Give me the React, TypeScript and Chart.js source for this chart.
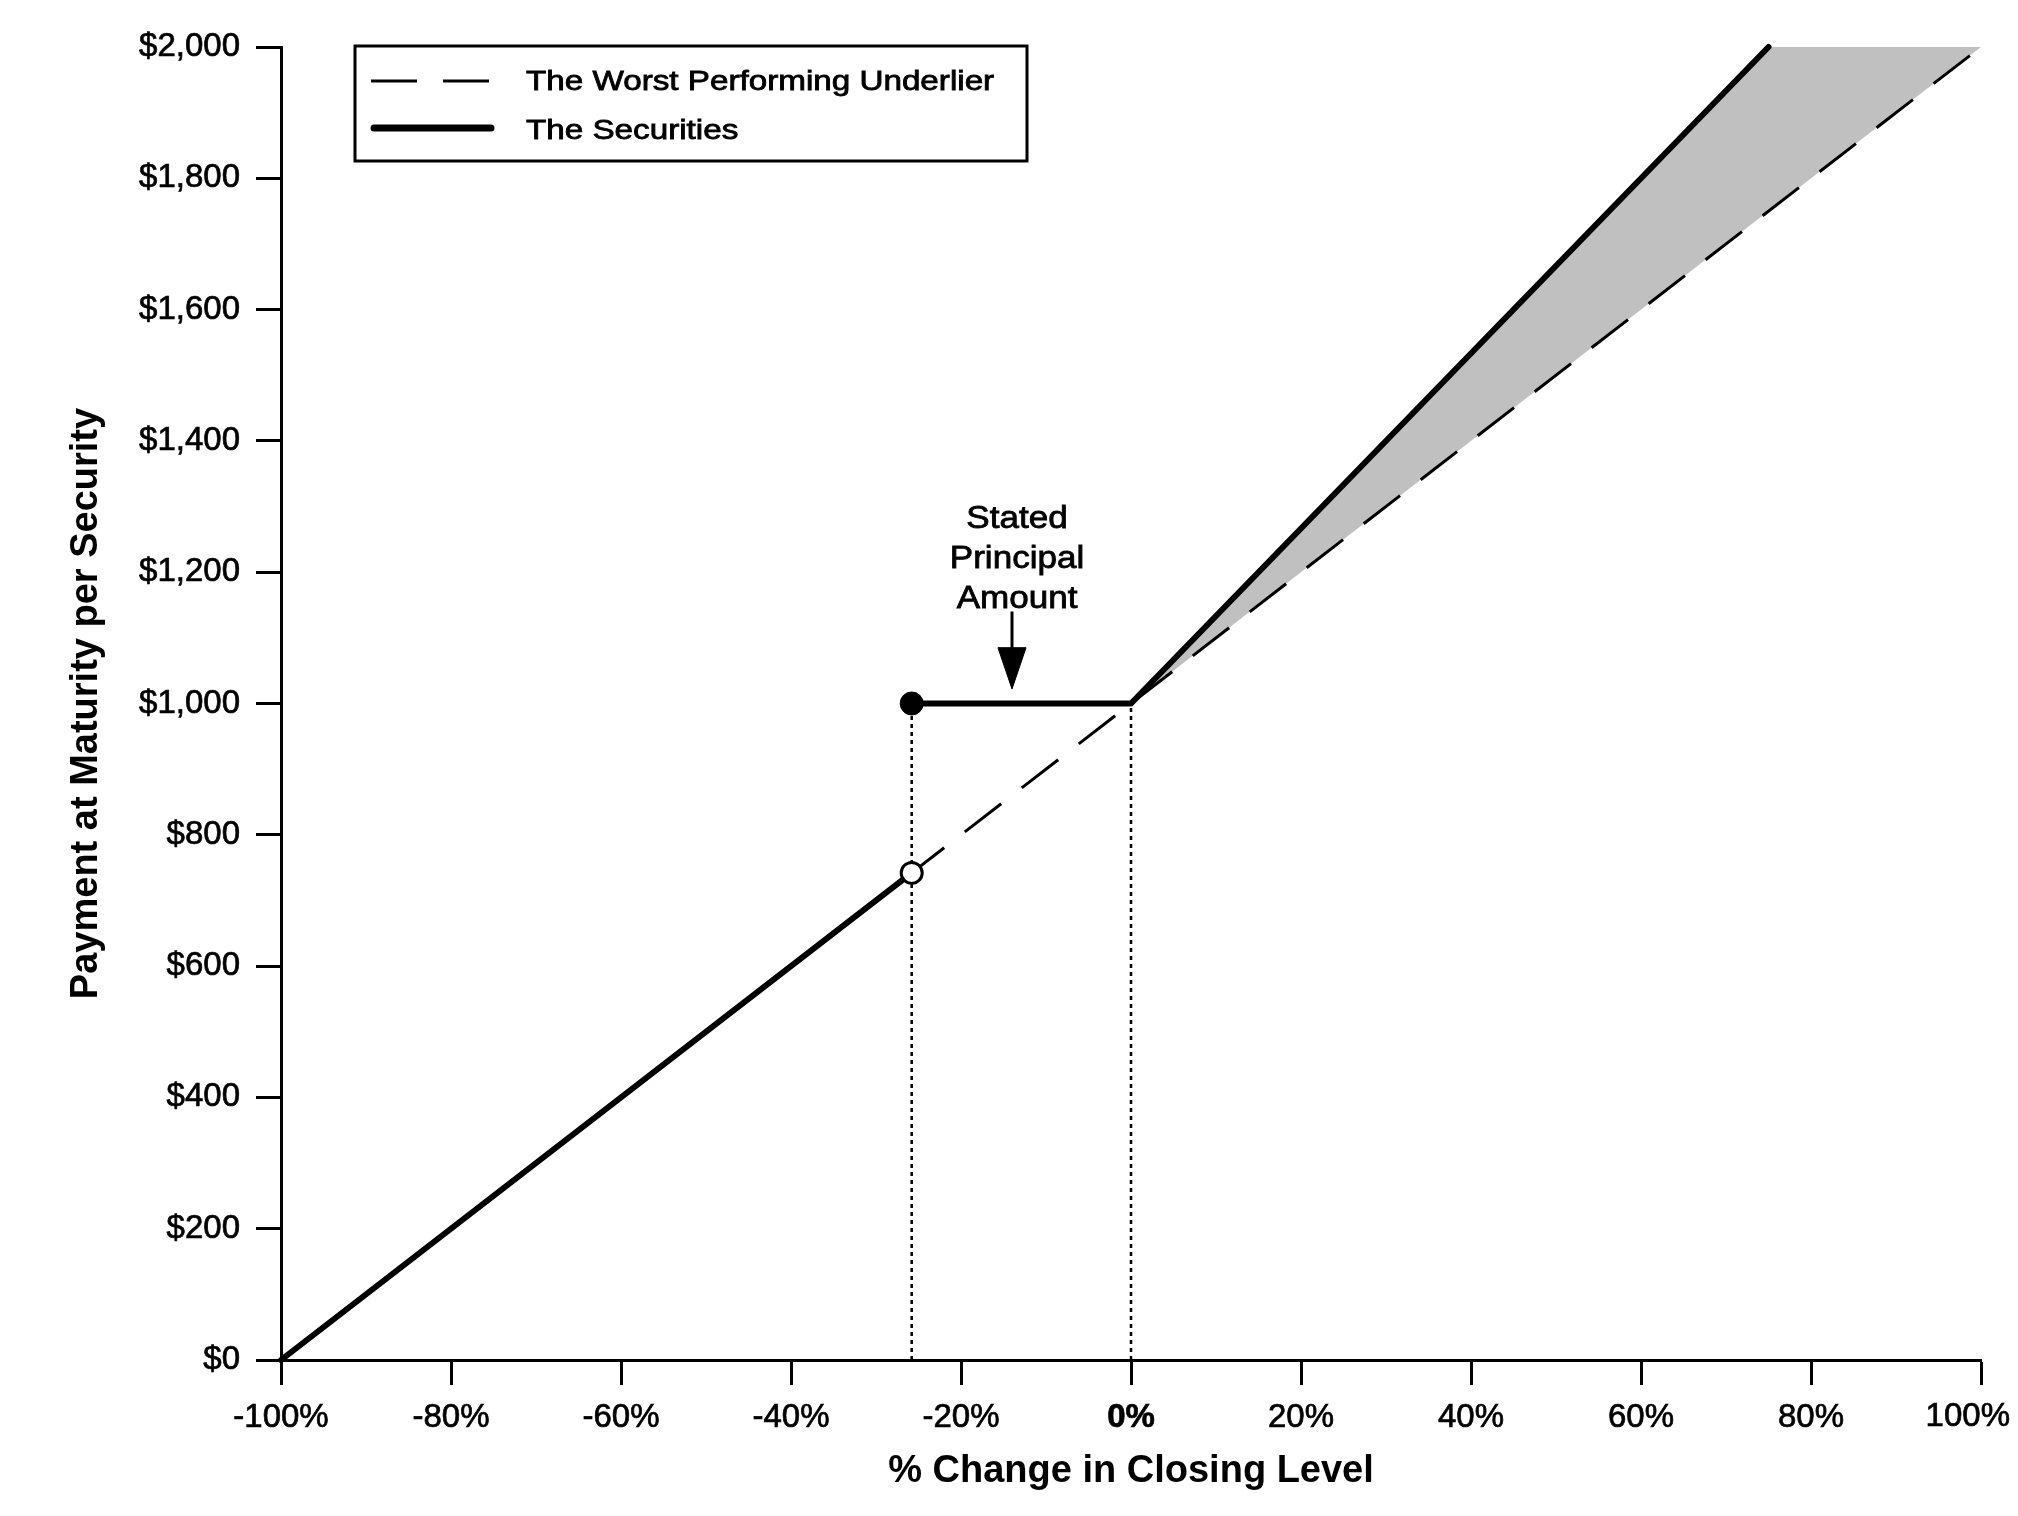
import React, { useEffect, useRef } from 'react';
import { Chart, registerables } from 'chart.js';

Chart.register(...registerables);

// ---------- data ----------
const xTickValues = [-100, -80, -60, -40, -20, 0, 20, 40, 60, 80, 100];
const yTickValues = [0, 200, 400, 600, 800, 1000, 1200, 1400, 1600, 1800, 2000];

const underlierX = [-100, 100];
const underlierY = [0, 2000];

const securitiesLowX = [-100, -25.8];
const securitiesLowY = [0, 742];
const securitiesHighX = [-25.8, 0, 75];
const securitiesHighY = [1000, 1000, 2000];

const upsideFillX = [0, 75, 100];
const upsideFillY = [1000, 2000, 2000];

const dottedX = [-25.8, 0];
const dottedBottom = 0;
const dottedTop = 1000;

const filledDotX = [-25.8];
const filledDotY = [1000];
const openDotX = [-25.8];
const openDotY = [742];

const arrowX = -14;
const arrowTopY = 1140;
const arrowBaseY = 1085;
const arrowTipY = 1022;
const arrowHalfWidth = 1.65;

const annotationLines = ['Stated', 'Principal', 'Amount'];
const legendLabels = ['The Worst Performing Underlier', 'The Securities'];

const FONT = '"Liberation Sans", Arial, Helvetica, sans-serif';
const xLabel = (v: number) => `${v}%`;
const yLabel = (v: number) => '$' + Number(v).toLocaleString('en-US');

const pts = (xs: number[], ys: number[]) => xs.map((x, i) => ({ x, y: ys[i] }));

function stretchedText(ctx: CanvasRenderingContext2D, text: string, x: number, y: number, sx: number, align: CanvasTextAlign, stroke: number) {
  ctx.save();
  ctx.translate(x, y);
  ctx.scale(sx, 1);
  ctx.textAlign = align;
  ctx.textBaseline = 'alphabetic';
  ctx.fillText(text, 0, 0);
  if (stroke > 0) {
    ctx.lineWidth = stroke;
    ctx.strokeStyle = '#000';
    ctx.strokeText(text, 0, 0);
  }
  ctx.restore();
}

const lastX = xTickValues[xTickValues.length - 1];

const overlayPlugin = {
  id: 'overlay',
  afterDatasetsDraw(chart: any) {
    const { ctx, chartArea, scales } = chart;
    const xs = scales.x;
    const ys = scales.y;

    // last x tick label, shifted inside the canvas as in the original
    ctx.save();
    ctx.fillStyle = '#000';
    ctx.font = `33px ${FONT}`;
    ctx.textAlign = 'right';
    ctx.textBaseline = 'middle';
    const lx = Math.min(xs.getPixelForValue(lastX) + 42, chart.width - 8);
    ctx.fillText(xLabel(lastX), lx, chartArea.bottom + 57);
    ctx.lineWidth = 0.7;
    ctx.strokeStyle = '#000';
    ctx.strokeText(xLabel(lastX), lx, chartArea.bottom + 57);
    ctx.restore();

    // annotation text
    ctx.save();
    ctx.fillStyle = '#000';
    ctx.font = `31px ${FONT}`;
    const ax = xs.getPixelForValue(arrowX) + 5;
    const ay = ys.getPixelForValue(arrowTopY);
    annotationLines.forEach((t, i) => {
      stretchedText(ctx, t, ax, ay - 84 + i * 40, 1.13, 'center', 0.8);
    });
    ctx.restore();

    // legend box
    const left = chartArea.left + 74;
    const top = chartArea.top - 1;
    const w = 672;
    const h = 115;
    ctx.save();
    ctx.fillStyle = '#fff';
    ctx.fillRect(left, top, w, h);
    ctx.strokeStyle = '#000';
    ctx.lineWidth = 3;
    ctx.strokeRect(left, top, w, h);
    ctx.beginPath();
    ctx.setLineDash([46, 26]);
    ctx.lineWidth = 3;
    ctx.moveTo(left + 16, top + 35);
    ctx.lineTo(left + 139, top + 35);
    ctx.stroke();
    ctx.beginPath();
    ctx.setLineDash([]);
    ctx.lineWidth = 7;
    ctx.lineCap = 'round';
    ctx.moveTo(left + 19, top + 82);
    ctx.lineTo(left + 136, top + 82);
    ctx.stroke();
    ctx.fillStyle = '#000';
    ctx.font = `27px ${FONT}`;
    stretchedText(ctx, legendLabels[0], left + 171, top + 44, 1.23, 'left', 0.8);
    stretchedText(ctx, legendLabels[1], left + 171, top + 93, 1.23, 'left', 0.8);
    ctx.restore();
  },
};

export default function App() {
  const canvasRef = useRef<HTMLCanvasElement | null>(null);

  useEffect(() => {
    document.body.style.margin = '0';
    const canvas = canvasRef.current;
    if (!canvas) return;

    const line = (data: any[], extra: any) => ({
      data,
      borderColor: '#000',
      backgroundColor: '#000',
      pointRadius: 0,
      tension: 0,
      fill: false,
      ...extra,
    });

    const chart = new Chart(canvas, {
      type: 'line',
      data: {
        datasets: [
          line(pts(underlierX, underlierY), { label: legendLabels[0], borderWidth: 3, borderDash: [46, 26], order: 3 }),
          line(pts(upsideFillX, upsideFillY), { label: 'fill', borderWidth: 0, borderColor: 'rgba(0,0,0,0)', backgroundColor: '#c0c0c0', fill: 0, order: 6 }),
          line(pts(securitiesLowX, securitiesLowY), { label: legendLabels[1], borderWidth: 6, borderCapStyle: 'round', borderJoinStyle: 'round', order: 1, clip: false }),
          line(pts(securitiesHighX, securitiesHighY), { label: legendLabels[1], borderWidth: 6, borderCapStyle: 'round', borderJoinStyle: 'round', order: 1, clip: false }),
          line(pts([dottedX[0], dottedX[0]], [dottedBottom, dottedTop]), { borderWidth: 2.5, borderDash: [4, 4], order: 4 }),
          line(pts([dottedX[1], dottedX[1]], [dottedBottom, dottedTop]), { borderWidth: 2.5, borderDash: [4, 4], order: 4 }),
          line(pts([arrowX, arrowX], [arrowTopY, arrowBaseY]), { borderWidth: 3, order: 2 }),
          line(
            pts([arrowX - arrowHalfWidth, arrowX + arrowHalfWidth, arrowX, arrowX - arrowHalfWidth], [arrowBaseY, arrowBaseY, arrowTipY, arrowBaseY]),
            { borderWidth: 1, fill: 'shape', order: 2 }
          ),
          line(pts(filledDotX, filledDotY), { showLine: false, pointRadius: 11.5, pointBorderWidth: 1, pointBackgroundColor: '#000', pointBorderColor: '#000', order: 0 }),
          line(pts(openDotX, openDotY), { showLine: false, pointRadius: 10.5, pointBorderWidth: 3, pointBackgroundColor: '#fff', pointBorderColor: '#000', order: 0 }),
        ],
      },
      options: {
        responsive: false,
        animation: false,
        devicePixelRatio: 1,
        events: [],
        layout: { padding: { top: 47, right: 37, left: 0, bottom: 0 } },
        plugins: {
          legend: { display: false },
          tooltip: { enabled: false },
          filler: { drawTime: 'beforeDatasetsDraw' },
        },
        scales: {
          x: {
            type: 'linear',
            min: -100,
            max: 100,
            afterBuildTicks: (scale: any) => {
              scale.ticks = xTickValues.map((v) => ({ value: v }));
            },
            afterFit: (scale: any) => {
              scale.height = 156;
              scale.paddingLeft = 0;
              scale.paddingRight = 0;
            },
            grid: {
              display: true,
              drawOnChartArea: false,
              drawTicks: true,
              tickLength: 25,
              tickWidth: 3,
              tickColor: '#000',
            },
            border: { display: true, color: '#000', width: 3 },
            ticks: {
              autoSkip: false,
              maxRotation: 0,
              padding: 13,
              color: '#000',
              textStrokeColor: '#000',
              textStrokeWidth: 0.7,
              font: (c: any) => ({ family: FONT, size: 33, weight: c.tick && c.tick.value === 0 ? 'bold' : 'normal' }),
              callback: (v: any) => (v === lastX ? '' : xLabel(v)),
            },
            title: {
              display: true,
              text: '% Change in Closing Level',
              color: '#000',
              font: { family: FONT, size: 38, weight: 'bold' },
              padding: { top: 0, bottom: 22 },
            },
          },
          y: {
            type: 'linear',
            min: 0,
            max: 2000,
            afterBuildTicks: (scale: any) => {
              scale.ticks = yTickValues.map((v) => ({ value: v }));
            },
            afterFit: (scale: any) => {
              scale.width = 281;
              scale.paddingTop = 0;
              scale.paddingBottom = 0;
            },
            grid: {
              display: true,
              drawOnChartArea: false,
              drawTicks: true,
              tickLength: 25,
              tickWidth: 3,
              tickColor: '#000',
            },
            border: { display: true, color: '#000', width: 3 },
            ticks: {
              autoSkip: false,
              padding: 16,
              color: '#000',
              textStrokeColor: '#000',
              textStrokeWidth: 0.7,
              font: { family: FONT, size: 33 },
              callback: (v: any) => yLabel(v),
            },
            title: {
              display: true,
              text: 'Payment at Maturity per Security',
              color: '#000',
              font: { family: FONT, size: 38, weight: 'bold' },
              padding: { top: 64, bottom: 0 },
            },
          },
        },
      } as any,
      plugins: [overlayPlugin],
    });

    return () => chart.destroy();
  }, []);

  return (
    <div style={{ position: 'absolute', left: 0, top: 0, width: 2018, height: 1516, overflow: 'hidden', background: '#fff' }}>
      <canvas ref={canvasRef} width={2018} height={1516} style={{ display: 'block', width: 2018, height: 1516 }} />
    </div>
  );
}
